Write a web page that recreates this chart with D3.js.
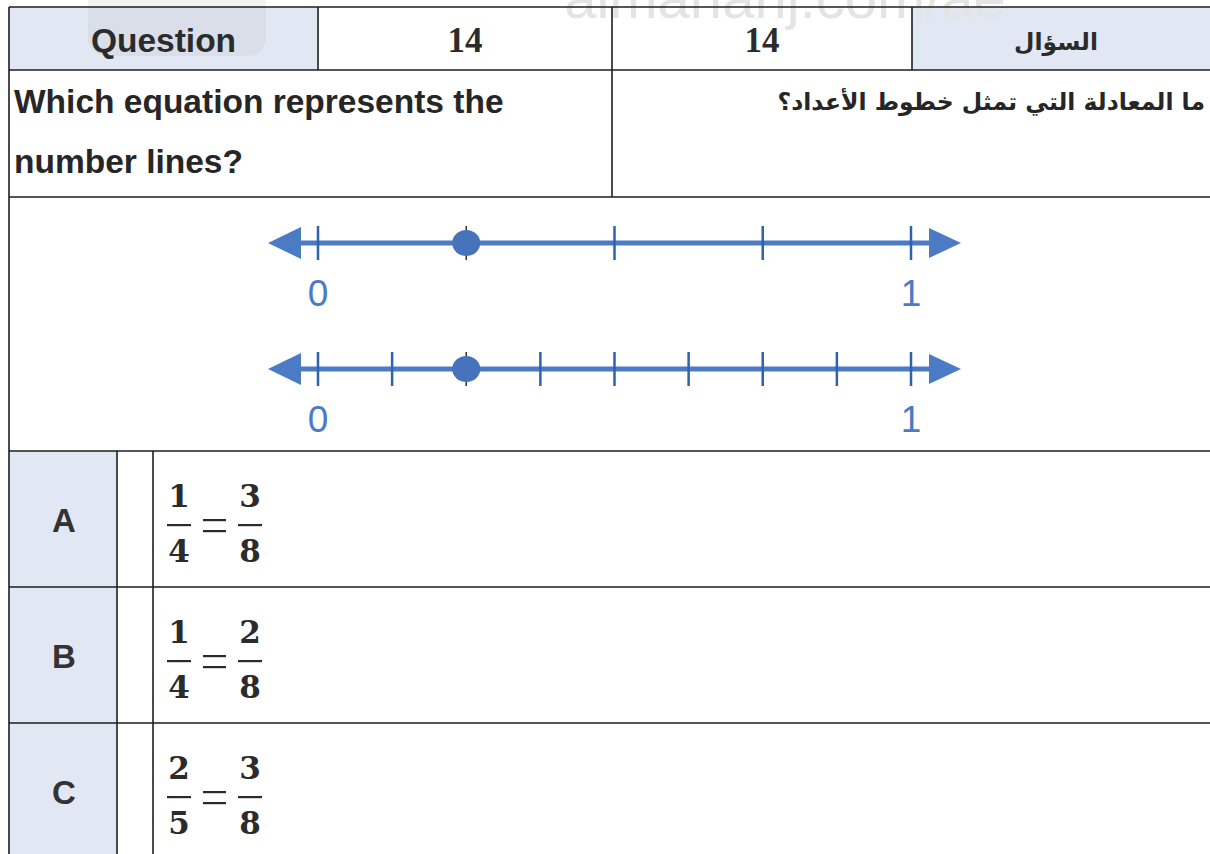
<!DOCTYPE html>
<html>
<head>
<meta charset="utf-8">
<script src="https://cdn.jsdelivr.net/npm/d3@7"></script>
<style>
  html, body { margin: 0; padding: 0; background: #fff; }
  svg { display: block; }
</style>
</head>
<body>
<script>
// content
var headerCells = ["Question", "14", "14", "السؤال"];
var questionEn = ["Which equation represents the", "number lines?"];
var questionAr = "ما المعادلة التي تمثل خطوط الأعداد؟";

// number lines: tick values and the marked point on each
var lineTicks = [
  [0, 0.25, 0.5, 0.75, 1],
  [0, 0.125, 0.25, 0.375, 0.5, 0.625, 0.75, 0.875, 1]
];
var linePoints = [0.25, 0.25];
var lineLabels = ["0", "1"];

// answer options
var optionLetters = ["A", "B", "C"];
var optionNums = [[1, 3], [1, 2], [2, 3]];
var optionDens = [[4, 8], [4, 8], [5, 8]];

// layout
var W = 1210, H = 854;
var colX = [9, 318, 612, 912, 1215];
var rowY = { head: 7, q: 70, lines: 197, opts: 451 };
var optRowH = 136;
var optCols = [9, 117, 153];
var tableRight = 1215;
var blueBg = "#e2e8f3";
var border = "#1e1e1e";
var lineBlue = "#4a7bc4";

var svg = d3.select("body")
            .append("svg")
            .attr("width", W)
            .attr("height", H);

// header backgrounds
svg.append("rect")
   .attr("x", colX[0]).attr("y", rowY.head)
   .attr("width", colX[1] - colX[0]).attr("height", rowY.q - rowY.head)
   .attr("fill", blueBg);
svg.append("rect")
   .attr("x", colX[3]).attr("y", rowY.head)
   .attr("width", colX[4] - colX[3]).attr("height", rowY.q - rowY.head)
   .attr("fill", blueBg);

// option letter backgrounds
svg.selectAll("rect.optbg")
   .data(optionLetters)
   .enter()
   .append("rect")
   .attr("class", "optbg")
   .attr("x", optCols[0])
   .attr("y", function(d, i) { return rowY.opts + i * optRowH; })
   .attr("width", optCols[1] - optCols[0])
   .attr("height", optRowH)
   .attr("fill", blueBg);

// faint watermark
svg.append("rect")
   .attr("x", 88).attr("y", -30)
   .attr("width", 178).attr("height", 86)
   .attr("rx", 18)
   .attr("fill", "#9a9a9a")
   .attr("opacity", 0.12);

svg.append("text")
   .attr("x", 785).attr("y", 18)
   .attr("text-anchor", "middle")
   .attr("font-family", "Liberation Sans, Arial, sans-serif")
   .attr("font-size", 58)
   .attr("fill", "#e4e4e4")
   .text("almanahj.com/ae");

// grid lines
var g = svg.append("g")
           .attr("stroke", border)
           .attr("stroke-width", 1.6)
           .attr("fill", "none");

var hLines = [rowY.head, rowY.q, rowY.lines, rowY.opts,
              rowY.opts + optRowH, rowY.opts + 2 * optRowH];
g.selectAll("line.h")
 .data(hLines)
 .enter()
 .append("line")
 .attr("x1", colX[0]).attr("x2", tableRight)
 .attr("y1", function(d) { return d; })
 .attr("y2", function(d) { return d; });

g.append("line").attr("x1", colX[0]).attr("x2", colX[0]).attr("y1", rowY.head).attr("y2", H);
[colX[1], colX[3]].forEach(function(x) {
  g.append("line").attr("x1", x).attr("x2", x).attr("y1", rowY.head).attr("y2", rowY.q);
});
g.append("line").attr("x1", colX[2]).attr("x2", colX[2]).attr("y1", rowY.head).attr("y2", rowY.lines);
[optCols[1], optCols[2]].forEach(function(x) {
  g.append("line").attr("x1", x).attr("x2", x).attr("y1", rowY.opts).attr("y2", H);
});

// header text
var headFonts = ["Liberation Sans, Arial, sans-serif", "Liberation Serif, serif",
                 "Liberation Serif, serif", "DejaVu Sans, sans-serif"];
var headSizes = [33.5, 35, 35, 23.5];
svg.selectAll("text.head")
   .data(headerCells)
   .enter()
   .append("text")
   .attr("class", "head")
   .attr("x", function(d, i) { return i === 3 ? 1056 : (colX[i] + colX[i + 1]) / 2; })
   .attr("y", function(d, i) { return i === 3 ? 50 : 52; })
   .attr("text-anchor", "middle")
   .attr("font-family", function(d, i) { return headFonts[i]; })
   .attr("font-size", function(d, i) { return headSizes[i]; })
   .attr("font-weight", "bold")
   .attr("fill", "#2b2b2b")
   .text(function(d) { return d; });

// question text
svg.selectAll("text.qen")
   .data(questionEn)
   .enter()
   .append("text")
   .attr("class", "qen")
   .attr("x", 14)
   .attr("y", function(d, i) { return 113 + i * 60; })
   .attr("font-family", "Liberation Sans, Arial, sans-serif")
   .attr("font-size", 33.5)
   .attr("font-weight", "bold")
   .attr("fill", "#262626")
   .text(function(d) { return d; });

svg.append("text")
   .attr("x", 1205).attr("y", 110)
   .attr("text-anchor", "start")
   .attr("direction", "rtl")
   .attr("font-family", "DejaVu Sans, sans-serif")
   .attr("font-size", 23.5)
   .attr("font-weight", "bold")
   .attr("fill", "#262626")
   .text(questionAr);

// number lines
var x = d3.scaleLinear().domain([0, 1]).range([318, 911]);
var lineY = [243, 369];

lineY.forEach(function(y, k) {
  var nl = svg.append("g");

  nl.append("line")
    .attr("x1", x(0) - 25).attr("x2", x(1) + 22)
    .attr("y1", y).attr("y2", y)
    .attr("stroke", lineBlue)
    .attr("stroke-width", 5);

  // arrow heads
  nl.append("path")
    .attr("d", "M" + (x(0) - 50) + "," + y + "L" + (x(0) - 17) + "," + (y - 16) +
               "L" + (x(0) - 17) + "," + (y + 16) + "Z")
    .attr("fill", lineBlue);
  nl.append("path")
    .attr("d", "M" + (x(1) + 50) + "," + y + "L" + (x(1) + 18) + "," + (y - 15) +
               "L" + (x(1) + 18) + "," + (y + 15) + "Z")
    .attr("fill", lineBlue);

  nl.selectAll("line.tick")
    .data(lineTicks[k])
    .enter()
    .append("line")
    .attr("class", "tick")
    .attr("x1", function(d) { return x(d); })
    .attr("x2", function(d) { return x(d); })
    .attr("y1", y - 17).attr("y2", y + 17)
    .attr("stroke", function(d) { return d === linePoints[k] ? "#333" : "#2f62ad"; })
    .attr("stroke-width", function(d) { return d === linePoints[k] ? 1.5 : 2.5; });

  nl.append("ellipse")
    .attr("cx", x(linePoints[k])).attr("cy", y)
    .attr("rx", 14).attr("ry", 13)
    .attr("fill", "#4673bb");

  nl.selectAll("text.lbl")
    .data(lineLabels)
    .enter()
    .append("text")
    .attr("class", "lbl")
    .attr("x", function(d) { return x(+d); })
    .attr("y", y + 63)
    .attr("text-anchor", "middle")
    .attr("font-family", "Liberation Sans, Arial, sans-serif")
    .attr("font-size", 37)
    .attr("fill", "#4a7bc4")
    .text(function(d) { return d; });
});

// options
svg.selectAll("text.letter")
   .data(optionLetters)
   .enter()
   .append("text")
   .attr("class", "letter")
   .attr("x", 64)
   .attr("y", function(d, i) { return rowY.opts + i * optRowH + 81; })
   .attr("text-anchor", "middle")
   .attr("font-family", "Liberation Sans, Arial, sans-serif")
   .attr("font-size", 33)
   .attr("font-weight", "bold")
   .attr("fill", "#333")
   .text(function(d) { return d; });

var fracX = [179, 250];
optionLetters.forEach(function(letter, i) {
  var top = rowY.opts + i * optRowH;
  var fg = svg.append("g")
              .attr("font-family", "DejaVu Serif, serif")
              .attr("font-weight", "bold")
              .attr("font-size", 31)
              .attr("fill", "#2b2b2b")
              .attr("text-anchor", "middle");

  fracX.forEach(function(fx, j) {
    fg.append("text").attr("x", fx).attr("y", top + 56).text(optionNums[i][j]);
    fg.append("rect")
      .attr("x", fx - 12).attr("y", top + 73)
      .attr("width", 24).attr("height", 2.2);
    fg.append("text").attr("x", fx).attr("y", top + 111).text(optionDens[i][j]);
  });

  fg.append("rect").attr("x", 203).attr("y", top + 68).attr("width", 23).attr("height", 2.2);
  fg.append("rect").attr("x", 203).attr("y", top + 79).attr("width", 23).attr("height", 2.2);
});
</script>
</body>
</html>
